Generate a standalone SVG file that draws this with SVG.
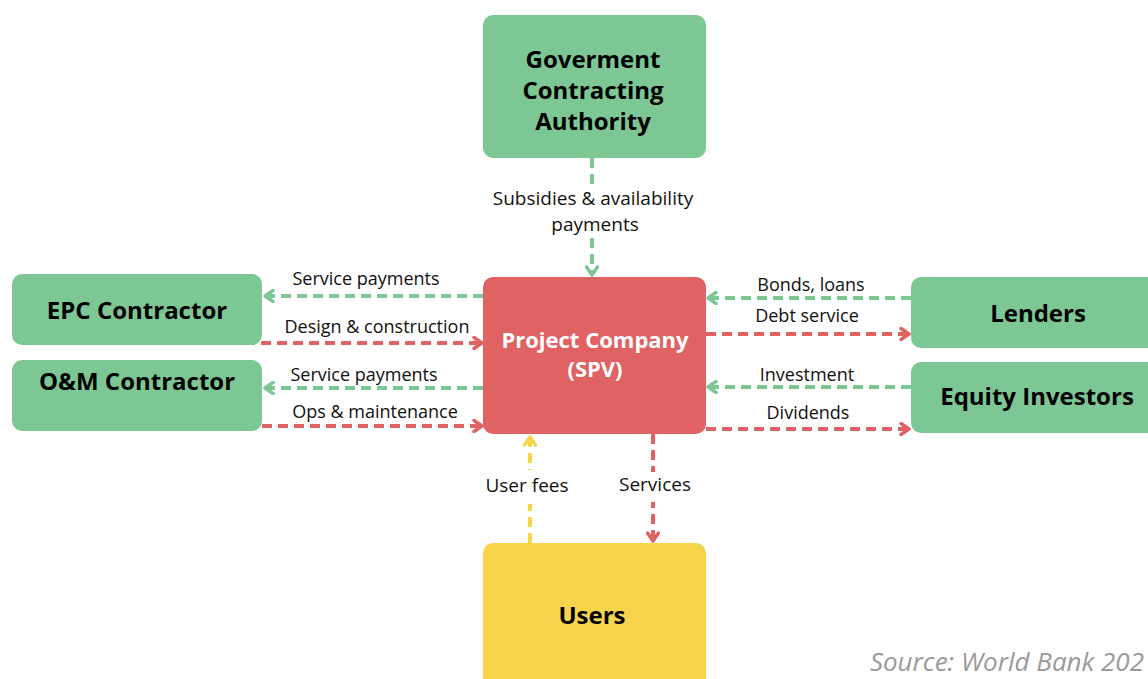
<svg xmlns="http://www.w3.org/2000/svg" width="1148" height="679" viewBox="0 0 1148 679">
<style>
.g{fill:#7dc795}
.r{fill:#e06262}
.y{fill:#f7d44c}
.t{font-family:"Open Sans","Noto Sans",sans-serif;font-weight:bold;font-size:24px;fill:#000;text-anchor:middle}
.tw{font-family:"Open Sans","Noto Sans",sans-serif;font-weight:bold;font-size:22px;fill:#fff;text-anchor:middle}
.l{font-family:"Open Sans","Noto Sans",sans-serif;font-size:18px;fill:#111;text-anchor:middle}
.lv{font-family:"Open Sans","Noto Sans",sans-serif;font-size:19px;fill:#111;text-anchor:middle}
.cg{stroke:#7dc795;stroke-width:4;fill:none;stroke-dasharray:10 6}
.cr{stroke:#e06262;stroke-width:4;fill:none;stroke-dasharray:10 6}
.cy{stroke:#f7d44c;stroke-width:4;fill:none;stroke-dasharray:10 6}
</style>
<defs>
<marker id="ag" viewBox="0 0 14 14" refX="12" refY="7" markerWidth="14" markerHeight="14" markerUnits="userSpaceOnUse" orient="auto"><path d="M4,1.5 L12,7 L4,12.5" fill="none" stroke="#7dc795" stroke-width="3.5" stroke-linecap="round" stroke-linejoin="round"/></marker>
<marker id="ar" viewBox="0 0 14 14" refX="12" refY="7" markerWidth="14" markerHeight="14" markerUnits="userSpaceOnUse" orient="auto"><path d="M4,1.5 L12,7 L4,12.5" fill="none" stroke="#e06262" stroke-width="3.5" stroke-linecap="round" stroke-linejoin="round"/></marker>
<marker id="ay" viewBox="0 0 14 14" refX="12" refY="7" markerWidth="14" markerHeight="14" markerUnits="userSpaceOnUse" orient="auto"><path d="M4,1.5 L12,7 L4,12.5" fill="none" stroke="#f7d44c" stroke-width="3.5" stroke-linecap="round" stroke-linejoin="round"/></marker>
</defs>
<rect width="1148" height="679" fill="#fff"/>
<g id="connectors">
<line class="cr" x1="245" y1="343" x2="482" y2="343" marker-end="url(#ar)"/>
<line class="cr" x1="262" y1="426" x2="482" y2="426" marker-end="url(#ar)"/>
</g>
<g id="gov"><rect class="g" x="483" y="15" width="223" height="143" rx="10"/>
<text class="t" x="593" y="68">Goverment</text><text class="t" x="593" y="99">Contracting</text><text class="t" x="593" y="130">Authority</text></g>
<g id="epc"><rect class="g" x="12" y="274" width="250" height="71" rx="10"/><text class="t" x="137" y="319">EPC Contractor</text></g>
<g id="om"><rect class="g" x="12" y="360" width="250" height="71" rx="10"/><text class="t" x="137" y="390">O&amp;M Contractor</text></g>
<g id="spv"><rect class="r" x="483" y="277" width="223" height="157" rx="10"/><text class="tw" x="595" y="348">Project Company</text><text class="tw" x="595" y="377">(SPV)</text></g>
<g id="lenders"><rect class="g" x="911" y="277" width="250" height="71" rx="10"/><text class="t" x="1038" y="322">Lenders</text></g>
<g id="equity"><rect class="g" x="911" y="362" width="250" height="71" rx="10"/><text class="t" x="1037" y="405">Equity Investors</text></g>
<g id="users"><rect class="y" x="483" y="543" width="223" height="150" rx="10"/><text class="t" x="592" y="624">Users</text></g>
<g id="connectors2">
<line class="cg" x1="592" y1="158" x2="592" y2="275" marker-end="url(#ag)"/>
<rect x="486" y="184" width="214" height="52" fill="#fff"/>
<text class="lv" x="593" y="205">Subsidies &amp; availability</text>
<text class="lv" x="595" y="231">payments</text>
<line class="cg" x1="483" y1="296" x2="265" y2="296" marker-end="url(#ag)"/>
<text class="l" x="366" y="285">Service payments</text>
<text class="l" x="377" y="333">Design &amp; construction</text>
<line class="cg" x1="483" y1="388" x2="265" y2="388" marker-end="url(#ag)"/>
<text class="l" x="364" y="381">Service payments</text>
<text class="l" x="375" y="418">Ops &amp; maintenance</text>
<line class="cg" x1="911" y1="298" x2="708" y2="298" marker-end="url(#ag)"/>
<text class="l" x="811" y="291">Bonds, loans</text>
<line class="cr" x1="706" y1="334" x2="909" y2="334" marker-end="url(#ar)"/>
<text class="l" x="807" y="322">Debt service</text>
<line class="cg" x1="911" y1="387" x2="708" y2="387" marker-end="url(#ag)"/>
<text class="l" x="807" y="381">Investment</text>
<line class="cr" x1="706" y1="429" x2="909" y2="429" marker-end="url(#ar)"/>
<text class="l" x="808" y="419">Dividends</text>
<line class="cy" x1="530" y1="543" x2="530" y2="437" marker-end="url(#ay)"/>
<rect x="478" y="470" width="100" height="34" fill="#fff"/>
<text class="lv" x="527" y="492">User fees</text>
<line class="cr" x1="653" y1="434" x2="653" y2="541" marker-end="url(#ar)"/>
<rect x="613" y="472" width="84" height="30" fill="#fff"/>
<text class="lv" x="655" y="491">Services</text>
</g>
<text x="1144" y="671" text-anchor="end" font-family="'Open Sans','Noto Sans',sans-serif" font-style="italic" font-size="26" fill="#9a9a9a">Source: World Bank 202</text>
</svg>
